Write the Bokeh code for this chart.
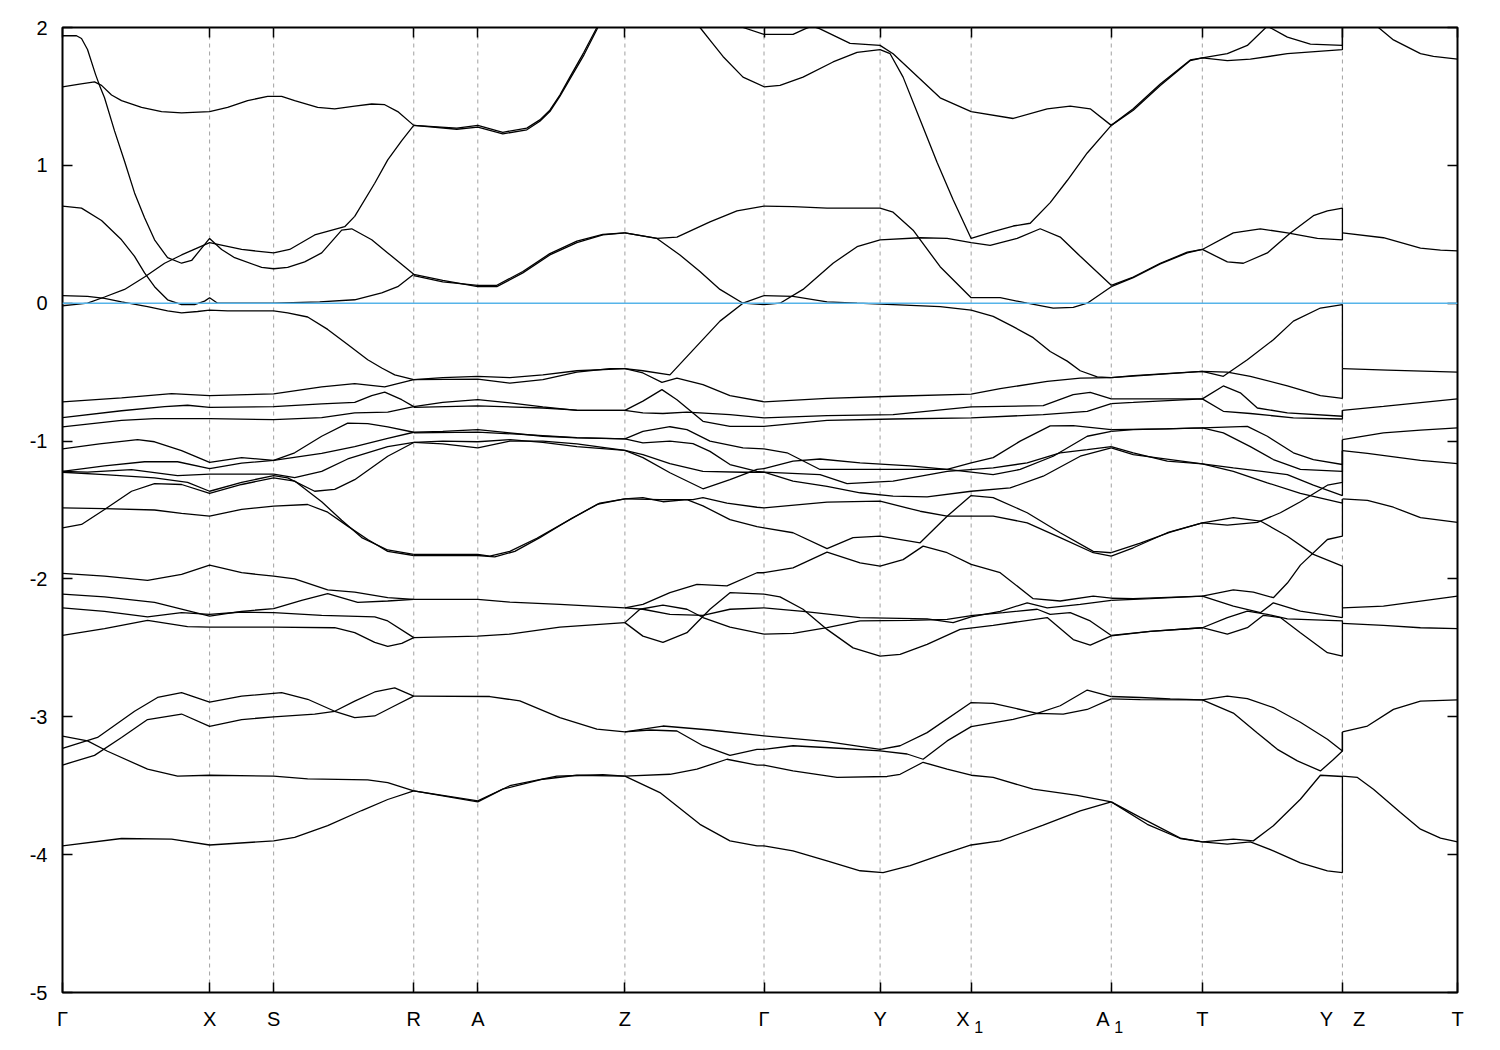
from bokeh.plotting import figure
from bokeh.models import FixedTicker, LinearAxis, Span, ColumnDataSource
from bokeh.embed import file_html
from bokeh.resources import INLINE

# ---- axes data ----
K_TICKS = [63, 210, 274, 414, 478, 625, 764, 880, 971, 1111, 1202, 1342, 1457]
K_LABELS = ["Γ", "X", "S", "R", "A", "Z", "Γ", "Y", "X₁", "A₁", "T", "Y\u2003Z", "T"]
E_TICKS = [-5, -4, -3, -2, -1, 0, 1, 2]
E_LABELS = ["-5", "-4", "-3", "-2", "-1", "0", "1", "2"]

# ---- bands: (k, E in eV) ----
# Gamma -> X -> S -> R
gr01 = [(63,1.94),(77,1.94),(82,1.92),(88,1.84),(96,1.66),(100,1.58),(105,1.49),(115,1.25),(125,1.03),(135,0.80),(145,0.62),(155,0.46),(168,0.33),(182,0.29),(192,0.31),(210,0.47),(222,0.39),(235,0.33),(262,0.26),(274,0.25),(288,0.26),(305,0.30),(322,0.365),(342,0.53),(352,0.54),(372,0.46),(388,0.365),(414,0.21)]
gr02 = [(63,1.57),(80,1.59),(95,1.605),(102,1.58),(112,1.51),(122,1.47),(142,1.42),(162,1.39),(182,1.38),(210,1.39),(228,1.42),(248,1.47),(268,1.50),(282,1.50),(295,1.47),(318,1.42),(335,1.41),(355,1.43),(372,1.445),(385,1.44),(398,1.39),(414,1.29)]
gr03 = [(63,0.705),(82,0.69),(102,0.60),(122,0.46),(135,0.34),(145,0.22),(155,0.12),(168,0.025),(182,-0.01),(195,-0.01),(205,0.015),(210,0.04),(218,0.0),(275,0.0),(320,0.01),(355,0.025),(382,0.075),(398,0.12),(414,0.21)]
gr04 = [(63,-0.02),(88,0.0),(105,0.045),(125,0.10),(145,0.19),(165,0.29),(182,0.35),(210,0.44),(242,0.39),(274,0.365),(290,0.39),(315,0.495),(345,0.555),(355,0.63),(375,0.87),(388,1.04),(402,1.18),(414,1.29)]
gr05 = [(63,0.055),(88,0.05),(105,0.035),(122,0.01),(148,-0.025),(168,-0.055),(182,-0.07),(198,-0.06),(210,-0.05),(228,-0.055),(274,-0.055),(288,-0.07),(308,-0.10),(328,-0.19),(348,-0.30),(368,-0.41),(382,-0.47),(395,-0.52),(414,-0.555)]
gr06 = [(63,-0.716),(122,-0.687),(172,-0.656),(210,-0.67),(274,-0.658),(322,-0.607),(355,-0.583),(385,-0.607),(414,-0.555)]
gr07 = [(63,-0.83),(122,-0.78),(165,-0.75),(188,-0.74),(210,-0.755),(274,-0.75),(322,-0.73),(355,-0.72),(372,-0.67),(385,-0.645),(402,-0.70),(414,-0.75)]
gr08 = [(63,-0.897),(122,-0.85),(155,-0.837),(210,-0.837),(274,-0.845),(322,-0.83),(355,-0.795),(388,-0.79),(414,-0.75)]
gr09 = [(63,-1.057),(100,-1.02),(138,-0.99),(155,-1.005),(182,-1.07),(210,-1.155),(242,-1.12),(274,-1.14),(295,-1.085),(322,-0.965),(348,-0.87),(368,-0.873),(388,-0.897),(414,-0.936)]
gr10 = [(63,-1.22),(105,-1.18),(145,-1.15),(178,-1.15),(210,-1.20),(242,-1.16),(274,-1.14),(322,-1.09),(355,-1.04),(388,-0.98),(414,-0.936)]
gr11 = [(63,-1.22),(88,-1.225),(132,-1.207),(178,-1.25),(210,-1.24),(274,-1.24),(295,-1.265),(322,-1.22),(348,-1.13),(388,-1.04),(414,-1.01)]
gr12 = [(63,-1.226),(105,-1.243),(155,-1.267),(188,-1.30),(210,-1.364),(242,-1.30),(274,-1.25),(288,-1.267),(315,-1.364),(335,-1.35),(355,-1.28),(388,-1.11),(414,-1.01)]
gr13 = [(63,-1.63),(82,-1.605),(105,-1.496),(132,-1.364),(155,-1.308),(182,-1.315),(210,-1.38),(242,-1.315),(274,-1.267),(295,-1.29),(322,-1.44),(342,-1.575),(362,-1.70),(388,-1.79),(414,-1.822)]
gr14 = [(63,-1.485),(105,-1.49),(155,-1.50),(182,-1.525),(210,-1.545),(242,-1.496),(274,-1.472),(308,-1.46),(328,-1.516),(348,-1.617),(368,-1.714),(388,-1.80),(414,-1.83)]
gr15 = [(63,-1.96),(105,-1.98),(148,-2.01),(182,-1.967),(210,-1.90),(242,-1.955),(274,-1.98),(295,-2.0),(328,-2.08),(355,-2.095),(388,-2.136),(414,-2.148)]
gr16 = [(63,-2.11),(105,-2.13),(155,-2.17),(210,-2.27),(242,-2.235),(274,-2.215),(302,-2.155),(328,-2.107),(358,-2.17),(388,-2.16),(414,-2.148)]
gr17 = [(63,-2.21),(105,-2.235),(148,-2.275),(182,-2.245),(210,-2.257),(242,-2.24),(274,-2.245),(322,-2.265),(375,-2.275),(388,-2.305),(414,-2.426)]
gr18 = [(63,-2.41),(105,-2.36),(148,-2.30),(188,-2.346),(210,-2.35),(274,-2.35),(335,-2.354),(355,-2.39),(375,-2.46),(388,-2.49),(402,-2.467),(414,-2.426)]
gr19 = [(63,-3.23),(98,-3.15),(135,-2.96),(158,-2.86),(182,-2.825),(210,-2.893),(242,-2.85),(282,-2.825),(308,-2.873),(335,-2.96),(355,-3.006),(375,-2.994),(395,-2.92),(414,-2.85)]
gr20 = [(63,-3.35),(95,-3.28),(122,-3.15),(148,-3.02),(182,-2.98),(210,-3.07),(242,-3.02),(274,-3.0),(315,-2.98),(335,-2.96),(355,-2.886),(375,-2.82),(395,-2.79),(414,-2.85)]
gr21 = [(63,-3.14),(88,-3.175),(108,-3.25),(148,-3.38),(178,-3.43),(210,-3.424),(274,-3.43),(308,-3.45),(368,-3.458),(388,-3.477),(414,-3.537)]
gr22 = [(63,-3.936),(122,-3.883),(172,-3.888),(210,-3.93),(274,-3.90),(295,-3.875),(328,-3.79),(362,-3.68),(388,-3.60),(414,-3.537)]

# R -> A -> Z
rz01 = [(414,1.29),(457,1.27),(478,1.29),(503,1.24),(527,1.27),(540,1.33),(550,1.40),(560,1.51),(570,1.64),(584,1.82),(597,2.0),(610,2.25),(625,2.5)]
rz02 = [(414,1.29),(457,1.262),(478,1.278),(503,1.228),(527,1.258),(540,1.32),(550,1.39),(560,1.50),(570,1.625),(584,1.80),(597,1.985),(610,2.2),(625,2.45)]
rz03 = [(414,0.20),(443,0.155),(478,0.13),(497,0.13),(523,0.23),(550,0.36),(577,0.45),(603,0.50),(625,0.51)]
rz04 = [(414,0.21),(443,0.165),(478,0.12),(497,0.12),(523,0.22),(550,0.35),(577,0.44),(603,0.495),(625,0.51)]
rz05 = [(414,-0.555),(443,-0.54),(478,-0.53),(510,-0.54),(543,-0.52),(577,-0.49),(625,-0.475)]
rz06 = [(414,-0.555),(478,-0.55),(510,-0.58),(543,-0.555),(577,-0.50),(610,-0.475),(625,-0.475)]
rz07 = [(414,-0.75),(443,-0.72),(478,-0.70),(510,-0.723),(543,-0.752),(577,-0.777),(625,-0.777)]
rz08 = [(414,-0.755),(478,-0.744),(543,-0.76),(577,-0.775),(625,-0.777)]
rz09 = [(414,-0.936),(443,-0.929),(478,-0.917),(510,-0.94),(543,-0.965),(577,-0.977),(625,-0.984)]
rz10 = [(414,-0.94),(478,-0.935),(543,-0.96),(577,-0.975),(625,-0.984)]
rz11 = [(414,-1.01),(443,-1.02),(478,-1.05),(510,-1.0),(543,-1.0),(577,-1.02),(625,-1.067)]
rz12 = [(414,-1.01),(443,-1.0),(478,-1.005),(510,-0.99),(543,-1.01),(577,-1.04),(625,-1.067)]
rz13 = [(414,-1.822),(478,-1.822),(490,-1.835),(510,-1.80),(537,-1.705),(570,-1.57),(597,-1.46),(625,-1.42)]
rz14 = [(414,-1.83),(478,-1.83),(495,-1.84),(515,-1.80),(540,-1.70),(572,-1.56),(600,-1.45),(625,-1.42)]
rz15 = [(414,-2.148),(478,-2.148),(510,-2.168),(560,-2.185),(625,-2.21)]
rz16 = [(414,-2.426),(478,-2.415),(510,-2.40),(560,-2.35),(625,-2.317)]
rz17 = [(414,-2.85),(490,-2.853),(520,-2.885),(560,-3.006),(597,-3.09),(625,-3.11)]
rz18 = [(414,-3.537),(478,-3.617),(503,-3.525),(543,-3.453),(577,-3.424),(625,-3.43)]
rz19 = [(414,-3.537),(478,-3.61),(510,-3.50),(557,-3.43),(603,-3.42),(625,-3.43)]

# Z -> Gamma
zg01 = [(625,2.5),(660,2.35),(685,2.12),(700,2.0),(712,1.89),(723,1.79),(743,1.64),(764,1.57)]
zg02 = [(625,2.45),(700,2.25),(730,2.08),(743,2.0),(764,1.95)]
zg03 = [(625,0.51),(657,0.47),(677,0.48),(710,0.59),(737,0.67),(764,0.705)]
zg04 = [(625,0.51),(657,0.47),(680,0.35),(700,0.23),(720,0.10),(743,0.0),(764,-0.01)]
zg05 = [(625,-0.475),(643,-0.49),(670,-0.52),(693,-0.34),(720,-0.13),(743,0.0),(764,0.055)]
zg06 = [(625,-0.475),(643,-0.506),(662,-0.574),(677,-0.543),(703,-0.59),(730,-0.67),(764,-0.715)]
zg07 = [(625,-0.777),(643,-0.71),(662,-0.627),(677,-0.70),(703,-0.857),(730,-0.893),(764,-0.893)]
zg08 = [(625,-0.777),(643,-0.796),(663,-0.80),(687,-0.79),(730,-0.808),(764,-0.832)]
zg09 = [(625,-0.984),(643,-0.93),(670,-0.896),(687,-0.917),(710,-1.0),(743,-1.05),(764,-1.057)]
zg10 = [(625,-0.984),(643,-1.013),(670,-1.0),(693,-1.018),(710,-1.075),(730,-1.17),(757,-1.22),(764,-1.225)]
zg11 = [(625,-1.067),(643,-1.098),(670,-1.163),(703,-1.22),(743,-1.226),(764,-1.226)]
zg12 = [(625,-1.067),(643,-1.12),(670,-1.23),(703,-1.346),(730,-1.28),(757,-1.206),(764,-1.20)]
zg13 = [(625,-1.42),(660,-1.425),(693,-1.425),(703,-1.41),(727,-1.45),(757,-1.48),(764,-1.485)]
zg14 = [(625,-1.42),(643,-1.41),(663,-1.44),(687,-1.425),(703,-1.47),(730,-1.57),(757,-1.62),(764,-1.63)]
zg15 = [(625,-2.21),(643,-2.185),(670,-2.10),(697,-2.04),(727,-2.05),(757,-1.955),(764,-1.955)]
zg16 = [(625,-2.21),(643,-2.22),(670,-2.257),(703,-2.264),(730,-2.22),(764,-2.21)]
zg17 = [(625,-2.317),(640,-2.22),(663,-2.19),(687,-2.22),(703,-2.28),(730,-2.35),(764,-2.40)]
zg18 = [(625,-2.317),(643,-2.415),(663,-2.46),(687,-2.39),(710,-2.22),(730,-2.10),(764,-2.11)]
zg19 = [(625,-3.11),(663,-3.067),(710,-3.096),(764,-3.139)]
zg20 = [(625,-3.11),(650,-3.096),(677,-3.103),(703,-3.21),(730,-3.28),(757,-3.236),(764,-3.236)]
zg21 = [(625,-3.43),(670,-3.417),(697,-3.38),(727,-3.308),(757,-3.351),(764,-3.351)]
zg22 = [(625,-3.43),(660,-3.55),(700,-3.78),(730,-3.90),(757,-3.936),(764,-3.936)]

# Gamma -> Y -> X1 -> A1
ga01 = [(764,1.95),(793,1.95),(805,1.99),(812,2.01),(820,1.99),(850,1.885),(880,1.87),(893,1.81),(940,1.49),(971,1.39),(1013,1.34),(1047,1.41),(1070,1.43),(1090,1.41),(1111,1.29)]
ga02 = [(764,1.57),(780,1.58),(803,1.64),(833,1.75),(857,1.82),(880,1.84),(890,1.81),(903,1.64),(920,1.33),(937,1.02),(953,0.75),(971,0.47),(993,0.52),(1013,0.56),(1030,0.58),(1050,0.73),(1067,0.89),(1087,1.09),(1111,1.29)]
ga03 = [(764,0.705),(793,0.70),(827,0.69),(880,0.69),(893,0.66),(913,0.53),(940,0.265),(971,0.04),(1000,0.04),(1027,0.0),(1053,-0.035),(1073,-0.03),(1087,0.0),(1111,0.12)]
ga04 = [(764,-0.01),(780,0.0),(803,0.10),(833,0.29),(857,0.41),(880,0.46),(920,0.475),(947,0.47),(971,0.44),(990,0.42),(1017,0.47),(1040,0.54),(1060,0.48),(1080,0.34),(1111,0.13)]
ga05 = [(764,0.055),(793,0.05),(827,0.01),(857,0.0),(893,-0.01),(940,-0.025),(971,-0.05),(993,-0.095),(1013,-0.17),(1033,-0.25),(1050,-0.35),(1067,-0.42),(1080,-0.49),(1097,-0.535),(1111,-0.54)]
ga06 = [(764,-0.715),(827,-0.69),(893,-0.675),(971,-0.66),(1000,-0.62),(1047,-0.567),(1080,-0.543),(1111,-0.54)]
ga07 = [(764,-0.832),(827,-0.815),(893,-0.808),(971,-0.752),(1043,-0.743),(1073,-0.663),(1090,-0.646),(1111,-0.694)]
ga08 = [(764,-0.893),(827,-0.85),(893,-0.84),(971,-0.832),(1043,-0.808),(1087,-0.784),(1111,-0.728)]
ga09 = [(764,-1.057),(787,-1.085),(820,-1.206),(860,-1.206),(910,-1.206),(947,-1.206),(971,-1.158),(993,-1.12),(1020,-1.0),(1050,-0.89),(1073,-0.888),(1111,-0.917)]
ga10 = [(764,-1.20),(793,-1.146),(820,-1.13),(860,-1.158),(910,-1.18),(947,-1.206),(993,-1.243),(1020,-1.206),(1053,-1.11),(1087,-0.965),(1111,-0.93)]
ga11 = [(764,-1.225),(820,-1.243),(847,-1.308),(893,-1.29),(947,-1.22),(993,-1.195),(1027,-1.158),(1060,-1.085),(1087,-1.062),(1111,-1.04)]
ga12 = [(764,-1.226),(793,-1.29),(827,-1.328),(860,-1.375),(893,-1.40),(927,-1.405),(971,-1.364),(1010,-1.34),(1043,-1.255),(1080,-1.11),(1111,-1.05)]
ga13 = [(764,-1.485),(827,-1.443),(880,-1.436),(920,-1.509),(947,-1.545),(993,-1.545),(1027,-1.593),(1060,-1.70),(1093,-1.81),(1111,-1.835)]
ga14 = [(764,-1.63),(793,-1.665),(827,-1.78),(853,-1.70),(880,-1.69),(920,-1.738),(947,-1.545),(971,-1.395),(993,-1.41),(1027,-1.52),(1060,-1.665),(1093,-1.80),(1111,-1.81)]
ga15 = [(764,-1.955),(793,-1.92),(827,-1.806),(860,-1.883),(880,-1.907),(903,-1.86),(923,-1.762),(947,-1.81),(971,-1.895),(1000,-1.955),(1033,-2.143),(1060,-2.16),(1093,-2.125),(1111,-2.14)]
ga16 = [(764,-2.11),(780,-2.13),(803,-2.22),(827,-2.366),(853,-2.50),(880,-2.56),(900,-2.547),(927,-2.475),(960,-2.366),(993,-2.337),(1047,-2.28),(1073,-2.44),(1090,-2.48),(1111,-2.413)]
ga17 = [(764,-2.21),(803,-2.235),(860,-2.28),(927,-2.29),(953,-2.317),(971,-2.275),(1000,-2.235),(1027,-2.173),(1047,-2.21),(1080,-2.185),(1111,-2.155)]
ga18 = [(764,-2.40),(793,-2.395),(827,-2.354),(860,-2.305),(910,-2.30),(947,-2.293),(973,-2.265),(1003,-2.245),(1037,-2.22),(1050,-2.257),(1070,-2.245),(1090,-2.305),(1111,-2.41)]
ga19 = [(764,-3.139),(827,-3.18),(880,-3.236),(900,-3.21),(927,-3.115),(971,-2.897),(993,-2.902),(1037,-2.975),(1060,-2.92),(1087,-2.806),(1111,-2.853)]
ga20 = [(764,-3.236),(793,-3.21),(843,-3.23),(880,-3.248),(907,-3.27),(923,-3.308),(947,-3.175),(971,-3.071),(1013,-3.018),(1037,-2.975),(1063,-2.98),(1087,-2.947),(1111,-2.87)]
ga21 = [(764,-3.351),(793,-3.393),(837,-3.44),(887,-3.433),(900,-3.417),(923,-3.33),(947,-3.38),(971,-3.424),(993,-3.44),(1033,-3.525),(1077,-3.57),(1111,-3.617)]
ga22 = [(764,-3.936),(793,-3.972),(827,-4.045),(860,-4.117),(883,-4.13),(910,-4.08),(943,-3.996),(971,-3.93),(1000,-3.90),(1043,-3.786),(1080,-3.683),(1111,-3.617)]

# A1 -> T -> Y | Z (jump at Y|Z)
ty01 = [(1111,1.29),(1133,1.40),(1160,1.58),(1190,1.76),(1202,1.78),(1227,1.81),(1247,1.87),(1267,2.01),(1287,1.93),(1310,1.88),(1342,1.87),(1342,2.6)]
ty02 = [(1111,1.29),(1133,1.41),(1160,1.59),(1190,1.765),(1202,1.78),(1227,1.76),(1250,1.77),(1287,1.81),(1342,1.84),(1342,2.5)]
ty03 = [(1111,0.13),(1133,0.19),(1160,0.29),(1187,0.37),(1202,0.39),(1227,0.30),(1243,0.29),(1267,0.365),(1290,0.51),(1313,0.635),(1327,0.67),(1342,0.69),(1342,0.51)]
ty04 = [(1111,0.12),(1133,0.185),(1160,0.285),(1187,0.365),(1202,0.39),(1233,0.51),(1260,0.54),(1287,0.51),(1317,0.47),(1342,0.46),(1342,0.51)]
ty05 = [(1111,-0.54),(1133,-0.525),(1202,-0.495),(1223,-0.53),(1247,-0.41),(1273,-0.265),(1293,-0.13),(1320,-0.035),(1342,-0.01),(1342,-0.475)]
ty06 = [(1111,-0.54),(1140,-0.525),(1202,-0.495),(1227,-0.50),(1250,-0.53),(1287,-0.60),(1320,-0.67),(1342,-0.69),(1342,-0.475)]
ty07 = [(1111,-0.694),(1133,-0.694),(1187,-0.694),(1202,-0.694),(1223,-0.60),(1240,-0.65),(1257,-0.76),(1287,-0.795),(1342,-0.82),(1342,-0.777)]
ty08 = [(1111,-0.728),(1133,-0.72),(1202,-0.694),(1223,-0.784),(1250,-0.80),(1293,-0.832),(1342,-0.84),(1342,-0.777)]
ty09 = [(1111,-0.917),(1167,-0.912),(1202,-0.905),(1247,-0.893),(1267,-0.965),(1293,-1.085),(1313,-1.134),(1342,-1.17),(1342,-0.99)]
ty10 = [(1111,-0.93),(1133,-0.917),(1202,-0.905),(1223,-0.94),(1250,-1.04),(1273,-1.134),(1300,-1.206),(1342,-1.22),(1342,-0.99)]
ty11 = [(1111,-1.04),(1133,-1.085),(1167,-1.146),(1202,-1.165),(1233,-1.195),(1287,-1.243),(1313,-1.32),(1342,-1.395),(1342,-1.07)]
ty12 = [(1111,-1.05),(1133,-1.098),(1202,-1.165),(1233,-1.22),(1267,-1.303),(1300,-1.38),(1342,-1.45),(1342,-1.42)]
ty13 = [(1111,-1.81),(1140,-1.74),(1170,-1.66),(1202,-1.593),(1227,-1.61),(1257,-1.59),(1280,-1.52),(1300,-1.44),(1327,-1.32),(1342,-1.30),(1342,-1.07)]
ty14 = [(1111,-1.835),(1133,-1.774),(1167,-1.665),(1202,-1.593),(1233,-1.556),(1260,-1.58),(1287,-1.69),(1313,-1.822),(1342,-1.907),(1342,-2.21)]
ty15 = [(1111,-2.14),(1133,-2.143),(1202,-2.125),(1233,-2.08),(1253,-2.096),(1273,-2.136),(1287,-2.03),(1300,-1.90),(1327,-1.714),(1342,-1.69),(1342,-1.42)]
ty16 = [(1111,-2.155),(1150,-2.143),(1202,-2.125),(1233,-2.197),(1260,-2.245),(1273,-2.173),(1300,-2.233),(1342,-2.28),(1342,-2.21)]
ty17 = [(1111,-2.41),(1150,-2.38),(1202,-2.354),(1227,-2.40),(1247,-2.354),(1263,-2.264),(1280,-2.28),(1300,-2.39),(1327,-2.535),(1342,-2.56),(1342,-2.32)]
ty18 = [(1111,-2.413),(1150,-2.38),(1202,-2.354),(1227,-2.28),(1247,-2.233),(1267,-2.257),(1287,-2.29),(1342,-2.305),(1342,-2.32)]
ty19 = [(1111,-2.853),(1140,-2.86),(1170,-2.87),(1202,-2.877),(1227,-2.85),(1247,-2.868),(1273,-2.933),(1300,-3.04),(1327,-3.163),(1342,-3.248),(1342,-3.11)]
ty20 = [(1111,-2.87),(1140,-2.875),(1202,-2.877),(1233,-2.973),(1257,-3.118),(1277,-3.236),(1297,-3.32),(1320,-3.393),(1333,-3.31),(1342,-3.248),(1342,-3.11)]
ty21 = [(1111,-3.617),(1147,-3.78),(1180,-3.883),(1202,-3.907),(1233,-3.888),(1253,-3.90),(1273,-3.79),(1300,-3.598),(1320,-3.424),(1342,-3.433),(1342,-3.43)]
ty22 = [(1111,-3.617),(1140,-3.73),(1180,-3.88),(1202,-3.907),(1227,-3.924),(1250,-3.907),(1273,-3.972),(1300,-4.06),(1327,-4.117),(1342,-4.13),(1342,-3.43)]

# Z -> T
zt01 = [(1342,2.5),(1360,2.2),(1378,2.0),(1393,1.91),(1420,1.81),(1433,1.79),(1457,1.77)]
zt02 = [(1342,0.51),(1383,0.475),(1420,0.40),(1440,0.385),(1457,0.38)]
zt03 = [(1342,-0.475),(1387,-0.485),(1457,-0.50)]
zt04 = [(1342,-0.777),(1383,-0.748),(1457,-0.694)]
zt05 = [(1342,-0.99),(1383,-0.94),(1420,-0.92),(1457,-0.905)]
zt06 = [(1342,-1.07),(1367,-1.09),(1420,-1.14),(1457,-1.163)]
zt07 = [(1342,-1.42),(1367,-1.43),(1393,-1.48),(1420,-1.556),(1457,-1.59)]
zt08 = [(1342,-2.21),(1383,-2.197),(1457,-2.125)]
zt09 = [(1342,-2.322),(1383,-2.337),(1420,-2.354),(1457,-2.36)]
zt10 = [(1342,-3.11),(1367,-3.067),(1393,-2.946),(1420,-2.886),(1457,-2.877)]
zt11 = [(1342,-3.43),(1357,-3.44),(1373,-3.525),(1400,-3.694),(1420,-3.815),(1440,-3.88),(1457,-3.907)]

CURVES = [gr01, gr02, gr03, gr04, gr05, gr06, gr07, gr08, gr09, gr10, gr11,
          gr12, gr13, gr14, gr15, gr16, gr17, gr18, gr19, gr20, gr21, gr22,
          rz01, rz02, rz03, rz04, rz05, rz06, rz07, rz08, rz09, rz10, rz11,
          rz12, rz13, rz14, rz15, rz16, rz17, rz18, rz19,
          zg01, zg02, zg03, zg04, zg05, zg06, zg07, zg08, zg09, zg10, zg11,
          zg12, zg13, zg14, zg15, zg16, zg17, zg18, zg19, zg20, zg21, zg22,
          ga01, ga02, ga03, ga04, ga05, ga06, ga07, ga08, ga09, ga10, ga11,
          ga12, ga13, ga14, ga15, ga16, ga17, ga18, ga19, ga20, ga21, ga22,
          ty01, ty02, ty03, ty04, ty05, ty06, ty07, ty08, ty09, ty10, ty11,
          ty12, ty13, ty14, ty15, ty16, ty17, ty18, ty19, ty20, ty21, ty22,
          zt01, zt02, zt03, zt04, zt05, zt06, zt07, zt08, zt09, zt10, zt11]

FONT = "Liberation Sans"
FS = "20px"

p = figure(width=1492, height=1042, x_range=(K_TICKS[0], K_TICKS[-1]), y_range=(-5, 2),
           output_backend="svg", toolbar_location=None,
           min_border_left=62, min_border_right=35, min_border_top=27, min_border_bottom=50,
           x_axis_location=None, y_axis_location=None)
p.grid.visible = False
p.outline_line_color = "black"
p.outline_line_width = 2
p.background_fill_color = "white"
p.border_fill_color = "white"

# dashed high-symmetry lines
for k in K_TICKS[1:-1]:
    p.add_layout(Span(location=k, dimension="height", line_color="#a0a0a0",
                      line_dash="4 4", line_width=1, level="underlay"))

src = ColumnDataSource(dict(xs=[[pt[0] for pt in c] for c in CURVES],
                            ys=[[pt[1] for pt in c] for c in CURVES]))
p.multi_line("xs", "ys", source=src, line_color="black", line_width=1.3)

# Fermi level
p.add_layout(Span(location=0, dimension="width", line_color="#56b4e9", line_width=1.6))


def make_axis(ticks, labels, show, standoff, size=FS, tick_color="black"):
    ax = LinearAxis(ticker=FixedTicker(ticks=ticks))
    ax.axis_line_color = None
    ax.major_tick_in = 10
    ax.major_tick_out = 0
    ax.major_tick_line_color = tick_color
    ax.major_tick_line_width = 1.5
    ax.minor_tick_line_color = None
    ax.major_label_text_font = FONT
    ax.major_label_text_color = "black"
    if show:
        ax.major_label_overrides = {t: l for t, l in zip(ticks, labels)}
        ax.major_label_standoff = standoff
        ax.major_label_text_font_size = size
    else:
        ax.major_label_overrides = {t: "" for t in ticks}
        ax.major_label_standoff = 0
        ax.major_label_text_font_size = "1px"
    return ax


# main k labels; letters carrying a subscript are padded so that they sit left of the tick
SUB = "₁"
PAD = "\u2002\u2004"
main_labels = [(l.replace(SUB, "") + PAD) if SUB in l else l for l in K_LABELS]
sub_ticks = [k + 7.5 for k, l in zip(K_TICKS, K_LABELS) if SUB in l]
sub_labels = ["1" for l in K_LABELS if SUB in l]

p.add_layout(make_axis(E_TICKS, E_LABELS, True, 15), "left")
p.add_layout(make_axis(E_TICKS, E_LABELS, False, 0), "right")
p.add_layout(make_axis(K_TICKS, main_labels, True, 15), "below")
p.add_layout(make_axis(sub_ticks, sub_labels, True, -12, size="16px", tick_color=None), "below")
p.add_layout(make_axis(K_TICKS, K_LABELS, False, 0), "above")

open("out.html", "w").write(file_html(p, INLINE))
